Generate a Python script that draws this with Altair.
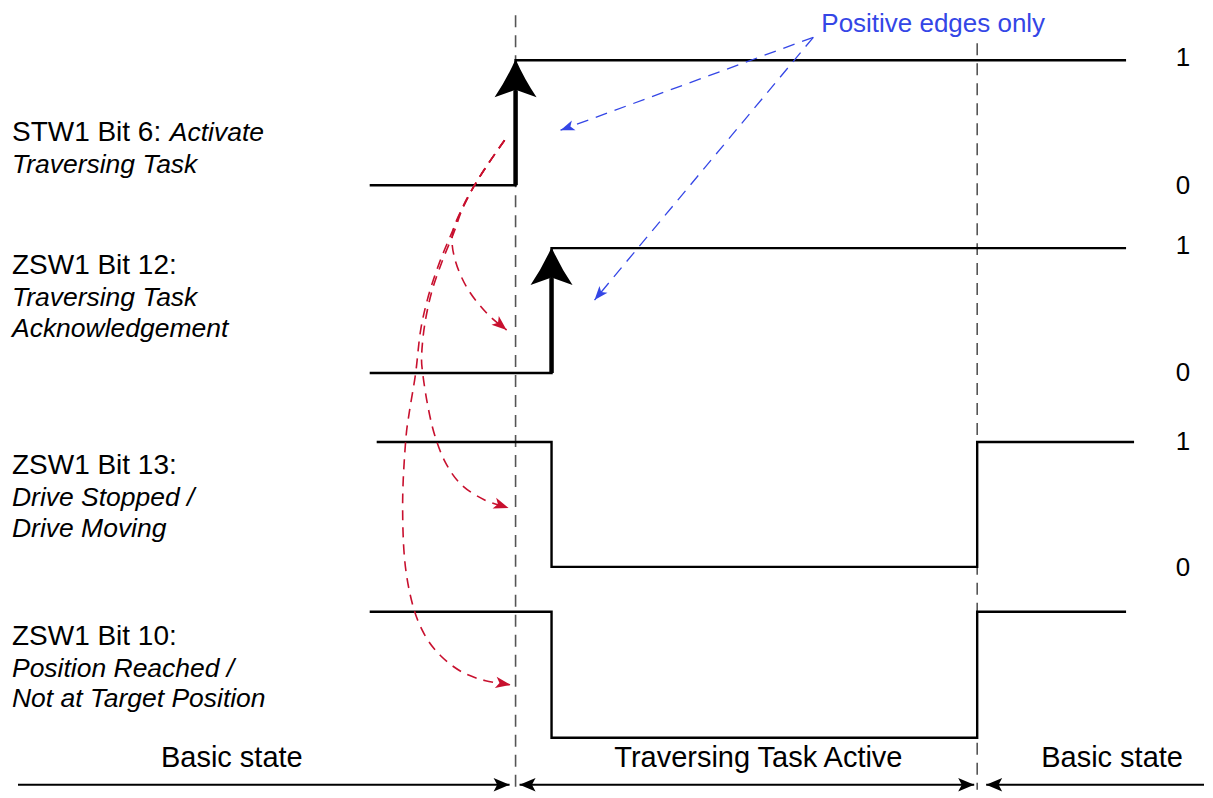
import math
import altair as alt
import pandas as pd

# ---------------- data (picture coordinates, px) ----------------
signal_ids = ["STW1 Bit 6", "ZSW1 Bit 12", "ZSW1 Bit 13", "ZSW1 Bit 10"]
sig_start = [370, 370, 377, 370]
sig_end = [1127, 1127, 1135, 1127]
level_hi = [60, 248, 442, 612]
level_lo = [185, 373, 567, 738]
init_state = [0, 0, 1, 1]
edge_times = [[516], [552], [552, 978], [552, 978]]
edge_arrow = [True, True, False, False]

phase_bounds = [516, 978]
bound_top = [15, 43]
phase_names = ["Basic state", "Traversing Task Active", "Basic state"]
phase_label_x = [232, 759, 1113]
phase_arrow_from = [18, 520, 987]
phase_arrow_to = [510, 975, 1205]
phase_tip_x = [510, 520, 975, 987]
phase_tip_rot = [90, 270, 90, 270]

label_text = ["STW1 Bit 6:", "ZSW1 Bit 12:", "ZSW1 Bit 13:", "ZSW1 Bit 10:"]
label_x = [12, 12, 12, 12]
label_y = [141, 274, 474, 645]
ital_text = ["Activate", "Traversing Task", "Traversing Task", "Acknowledgement",
             "Drive Stopped /", "Drive Moving", "Position Reached /",
             "Not at Target Position"]
ital_x = [170, 12, 12, 12, 12, 12, 12, 12]
ital_y = [141, 173, 306, 337, 506, 537, 677, 707]

level_text = ["1", "0", "1", "0", "1", "0"]
level_text_y = [66, 194, 254, 381, 450, 576]

note_text = "Positive edges only"
note_origin = (814, 37)
note_tips_x = [561, 595]
note_tips_y = [130, 300]

curveA_x = [505, 489, 475, 463, 453, 455, 467, 487, 507]
curveA_y = [140, 163, 185, 207, 233, 258, 287, 313, 330]
curveB_x = [505, 489, 475, 463, 454, 443, 432, 425, 422, 423, 428, 435, 446, 462, 485, 509]
curveB_y = [140, 163, 185, 208, 233, 260, 292, 325, 355, 373, 405, 435, 463, 485, 500, 508]
curveC_x = [505, 489, 475, 463, 452, 440, 429, 421, 416, 410, 406, 403, 405, 413, 425, 441, 462, 486, 511]
curveC_y = [140, 163, 185, 208, 233, 262, 295, 330, 373, 410, 441, 500, 560, 605, 635, 656, 672, 681, 685]

# ---------------- chart setup ----------------
W, H = 1197, 782
OX, OY = 8, 8
xs = alt.Scale(domain=[OX, OX + W], nice=False, zero=False)
ys = alt.Scale(domain=[OY, OY + H], nice=False, zero=False, reverse=True)
FONT = "Liberation Sans"


def X(f):
    return alt.X(f, type="quantitative", scale=xs, axis=None)


def Y(f):
    return alt.Y(f, type="quantitative", scale=ys, axis=None)


# stealth arrowheads, tip at the origin, pointing up
BIG_HEAD = "M0,0 Q0.42,0.95 1,1.81 L0,1.45 L-1,1.81 Q-0.42,0.95 0,0 Z"
SMALL_HEAD = "M0,0 L0.75,2 L0,1.5 L-0.75,2 Z"

# signal polylines
rows = []
for i, name in enumerate(signal_ids):
    lv = [level_lo[i], level_hi[i]]
    s = init_state[i]
    pts = [(sig_start[i], lv[s])]
    for t in edge_times[i]:
        pts.append((t, lv[s]))
        s = 1 - s
        pts.append((t, lv[s]))
    pts.append((sig_end[i], lv[s]))
    for k, (x, y) in enumerate(pts):
        rows.append(dict(sig=name, k=k, x=x, y=y))
sig_df = pd.DataFrame(rows)

signals = alt.Chart(sig_df).mark_line(color="black", strokeWidth=2.4).encode(
    x=X("x"), y=Y("y"), detail="sig:N", order="k:Q")

# thick rising edges with big arrowheads
edge_rows = []
for i in range(len(signal_ids)):
    if edge_arrow[i]:
        edge_rows.append(dict(x=edge_times[i][0], y=level_lo[i], y2=level_hi[i] + 30,
                              tip=level_hi[i] - 1))
edge_df = pd.DataFrame(edge_rows)
edges = alt.Chart(edge_df).mark_rule(color="black", strokeWidth=4.5).encode(
    x=X("x"), y=Y("y"), y2=alt.Y2("y2"))
heads = alt.Chart(edge_df).mark_point(shape=BIG_HEAD, filled=True, size=1764,
                                      color="black", opacity=1, strokeWidth=0).encode(
    x=X("x"), y=Y("tip"))

# dashed phase boundaries
bound_df = pd.DataFrame(dict(x=phase_bounds, y=bound_top, y2=[OY + H] * len(phase_bounds)))
bounds = alt.Chart(bound_df).mark_rule(color="#555555", strokeWidth=1.6,
                                       strokeDash=[12, 8]).encode(
    x=X("x"), y=Y("y"), y2=alt.Y2("y2"))

# red dependency curves
crows = []
tips = []
for cname, cx, cy in [("A", curveA_x, curveA_y), ("B", curveB_x, curveB_y),
                      ("C", curveC_x, curveC_y)]:
    for k, (x, y) in enumerate(zip(cx, cy)):
        crows.append(dict(c=cname, k=k, x=x, y=y))
    dx, dy = cx[-1] - cx[-2], cy[-1] - cy[-2]
    tips.append(dict(x=cx[-1], y=cy[-1], rot=(math.degrees(math.atan2(dy, dx)) + 90) % 360))
curve_df = pd.DataFrame(crows)
red = "#C8102E"
curves = alt.Chart(curve_df).mark_line(color=red, strokeWidth=1.6, strokeDash=[10, 7],
                                       interpolate="cardinal").encode(
    x=X("x"), y=Y("y"), detail="c:N", order="k:Q")
red_heads = alt.Chart(pd.DataFrame(tips)).mark_point(
    shape=SMALL_HEAD, filled=True, size=225, color=red, opacity=1, strokeWidth=0).encode(
    x=X("x"), y=Y("y"), angle=alt.Angle("rot:Q", scale=None))

# blue note arrows
blue = "#3446E6"
brows = []
btips = []
for j, (tx, ty) in enumerate(zip(note_tips_x, note_tips_y)):
    brows.append(dict(b=j, k=0, x=note_origin[0], y=note_origin[1]))
    brows.append(dict(b=j, k=1, x=tx, y=ty))
    dx, dy = tx - note_origin[0], ty - note_origin[1]
    btips.append(dict(x=tx, y=ty, rot=(math.degrees(math.atan2(dy, dx)) + 90) % 360))
blines = alt.Chart(pd.DataFrame(brows)).mark_line(color=blue, strokeWidth=1.3,
                                                  strokeDash=[12, 8]).encode(
    x=X("x"), y=Y("y"), detail="b:N", order="k:Q")
bheads = alt.Chart(pd.DataFrame(btips)).mark_point(
    shape=SMALL_HEAD, filled=True, size=196, color=blue, opacity=1, strokeWidth=0).encode(
    x=X("x"), y=Y("y"), angle=alt.Angle("rot:Q", scale=None))
note = alt.Chart(pd.DataFrame(dict(t=[note_text], x=[822], y=[32]))).mark_text(
    align="left", baseline="alphabetic", font=FONT, fontSize=26, color=blue).encode(
    x=X("x"), y=Y("y"), text="t:N")

# left labels
lab = alt.Chart(pd.DataFrame(dict(t=label_text, x=label_x, y=label_y))).mark_text(
    align="left", baseline="alphabetic", font=FONT, fontSize=28, color="black").encode(
    x=X("x"), y=Y("y"), text="t:N")
ital = alt.Chart(pd.DataFrame(dict(t=ital_text, x=ital_x, y=ital_y))).mark_text(
    align="left", baseline="alphabetic", font=FONT, fontSize=26.5, fontStyle="italic",
    color="black").encode(x=X("x"), y=Y("y"), text="t:N")

# 1 / 0 level labels
lvl = alt.Chart(pd.DataFrame(dict(t=level_text, x=[1184] * len(level_text),
                                  y=level_text_y))).mark_text(
    align="center", baseline="alphabetic", font=FONT, fontSize=26, color="black").encode(
    x=X("x"), y=Y("y"), text="t:N")

# bottom phase labels and arrows
BOT = 785
phase_lab = alt.Chart(pd.DataFrame(dict(t=phase_names, x=phase_label_x,
                                        y=[767] * 3))).mark_text(
    align="center", baseline="alphabetic", font=FONT, fontSize=29, color="black").encode(
    x=X("x"), y=Y("y"), text="t:N")
parrows = alt.Chart(pd.DataFrame(dict(x=phase_arrow_from, x2=phase_arrow_to,
                                      y=[BOT] * 3))).mark_rule(
    color="black", strokeWidth=2).encode(x=X("x"), x2=alt.X2("x2"), y=Y("y"))
ptips = alt.Chart(pd.DataFrame(dict(x=phase_tip_x, y=[BOT] * 4, rot=phase_tip_rot))).mark_point(
    shape="M0,0 L0.85,2 L0,1.55 L-0.85,2 Z", filled=True, size=256, color="black",
    opacity=1, strokeWidth=0).encode(x=X("x"), y=Y("y"), angle=alt.Angle("rot:Q", scale=None))

chart = alt.layer(
    bounds, signals, edges, heads, blines, bheads, curves, red_heads,
    note, lab, ital, lvl, phase_lab, parrows, ptips
).properties(width=W, height=H, padding=0, background="white").configure_view(stroke=None)

chart.save("out.html", embed_options={"renderer": "svg", "actions": False})
